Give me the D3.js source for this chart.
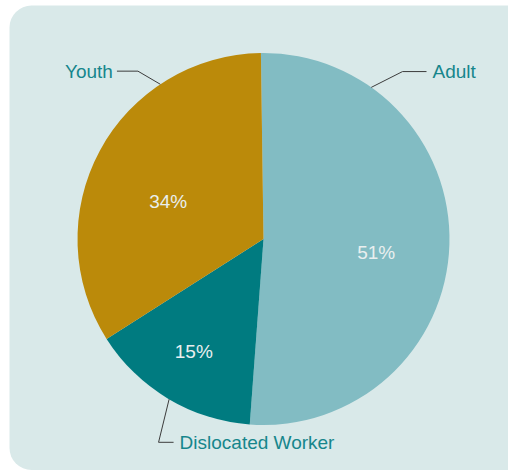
<!DOCTYPE html>
<html>
<head>
<meta charset="utf-8">
<script src="https://cdn.jsdelivr.net/npm/d3@7"></script>
<style>
  html, body { margin: 0; padding: 0; background: #ffffff; }
  svg { display: block; font-family: "Liberation Sans", Arial, sans-serif; }
</style>
</head>
<body>
<svg id="chart" width="508" height="470"></svg>
<script>
// Participant shares by program (percent of total)
const categories = ["Adult", "Dislocated Worker", "Youth"];
const shares = [51.4, 14.8, 33.8];

const colors = ["#82bcc3", "#007b80", "#bb8a0a"];

const W = 508, H = 470;
const cx = 263.5, cy = 239, R = 186;
const deg = Math.PI / 180;
const startAngle = -0.8 * deg;

const svg = d3.select("#chart");

// panel background
svg.append("rect")
  .attr("x", 9.5).attr("y", 5.5)
  .attr("width", W - 9.5 + 20).attr("height", H - 5.5)
  .attr("rx", 22).attr("ry", 22)
  .attr("fill", "#d9e9e9");

const data = categories.map((c, i) => ({ category: c, value: shares[i], color: colors[i] }));
const total = d3.sum(shares);

const pie = d3.pie()
  .sort(null)
  .value(d => d.value)
  .startAngle(startAngle)
  .endAngle(startAngle + 2 * Math.PI);

const arcs = pie(data);
const arc = d3.arc().innerRadius(0).outerRadius(R);

const g = svg.append("g").attr("transform", `translate(${cx},${cy})`);

g.selectAll("path.slice")
  .data(arcs)
  .join("path")
  .attr("class", "slice")
  .attr("d", arc)
  .attr("fill", d => d.data.color);

// percent labels inside the slices: radius fraction and angular nudge per slice
const inner = {
  "Adult": { r: 0.61, da: 5 },
  "Dislocated Worker": { r: 0.71, da: 1 },
  "Youth": { r: 0.55, da: -7 }
};
const pct = d3.format(".0%");
const polar = (a, r) => [r * Math.sin(a), -r * Math.cos(a)];

g.selectAll("text.pct")
  .data(arcs)
  .join("text")
  .attr("class", "pct")
  .each(function (d) {
    const s = inner[d.data.category];
    const mid = (d.startAngle + d.endAngle) / 2 + s.da * deg;
    const [x, y] = polar(mid, R * s.r);
    d3.select(this).attr("x", x).attr("y", y);
  })
  .attr("text-anchor", "middle")
  .attr("dominant-baseline", "central")
  .attr("font-size", 19)
  .attr("fill", "#e9efef")
  .text(d => pct(d.data.value / total));

// category labels with leader lines
const outer = {
  "Adult":             { a: 35.4,  elbowA: 39.7,  elbowR: 1.17, dir: "h", len: 24, side: 1 },
  "Dislocated Worker": { a: 210.5, elbowA: 207.3, elbowR: 1.23, dir: "h", len: 15, side: 1 },
  "Youth":             { a: 326.3, elbowA: 323.2, elbowR: 1.127, dir: "h", len: -21, side: -1 }
};

arcs.forEach(d => {
  const s = outer[d.data.category];
  const p0 = polar(s.a * deg, R);
  const p1 = polar(s.elbowA * deg, R * s.elbowR);
  const p2 = [p1[0] + s.len, p1[1]];
  g.append("path")
    .attr("d", d3.line()([p0, p1, p2]))
    .attr("fill", "none")
    .attr("stroke", "#3c3c3c")
    .attr("stroke-width", 1);
  g.append("text")
    .attr("x", p2[0] + (s.side > 0 ? 6 : -4))
    .attr("y", p2[1])
    .attr("dominant-baseline", "central")
    .attr("text-anchor", s.side > 0 ? "start" : "end")
    .attr("font-size", 19)
    .attr("fill", "#16868c")
    .text(d.data.category);
});
</script>
</body>
</html>
